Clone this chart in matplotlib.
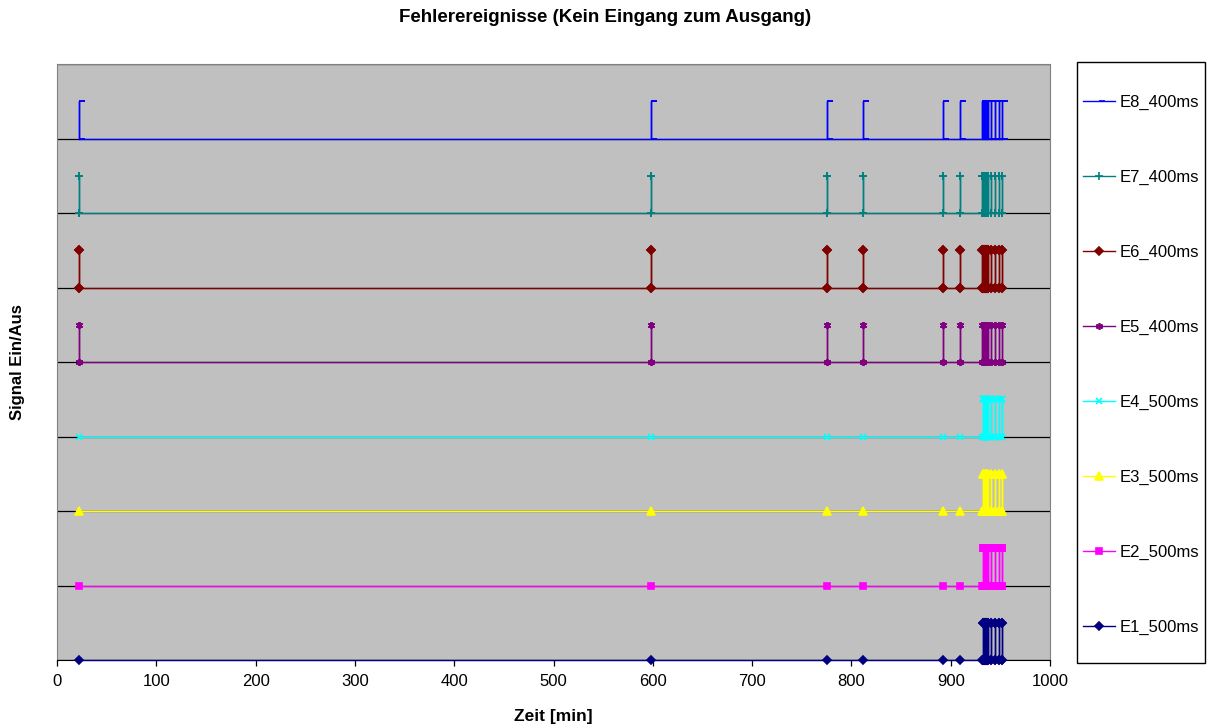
import numpy as np
import matplotlib.pyplot as plt
from matplotlib.path import Path
from matplotlib.patches import Rectangle

plt.rcParams['font.family'] = ['Liberation Sans', 'DejaVu Sans']

# ------------------------------------------------------------
# Data
# ------------------------------------------------------------
# times of the recorded events [min]
event_times = [22.5, 598.5, 775.0, 811.5, 892.0, 909.5,
               931.5, 932.5, 933.5, 934.5, 935.5, 936.5, 937.5,
               940.5, 944.5, 948.5, 952.0]

# 1 = signal switched on at that event, 0 = stayed off
flags_400ms = [1, 1, 1, 1, 1, 1,
               1, 1, 1, 1, 1, 1, 1,
               1, 1, 1, 1]
flags_500ms = [0, 0, 0, 0, 0, 0,
               0, 1, 1, 1, 1, 1, 1,
               1, 1, 1, 1]

series_names = ['E1_500ms', 'E2_500ms', 'E3_500ms', 'E4_500ms',
                'E5_400ms', 'E6_400ms', 'E7_400ms', 'E8_400ms']
series_flags = [flags_500ms] * 4 + [flags_400ms] * 4
pulse_ms = [500, 500, 500, 500, 400, 400, 400, 400]

# styles (Excel default series look)
colors = ['#000080', '#FF00FF', '#FFFF00', '#00FFFF',
          '#800080', '#800000', '#008080', '#0000FF']
dash = Path([(0, 0), (1, 0)], [Path.MOVETO, Path.LINETO])
markers = ['D', 's', '^', 'x', (6, 2, 0), 'D', '+', dash]
msizes = [4.5, 5, 5.5, 4.5, 5, 4.5, 6, 8]


def pulse_train(times, flags, width):
    """Turns event times into a rectangular on/off signal."""
    xs, ys = [], []
    for t, f in zip(times, flags):
        if f:
            xs += [t, t, t + width, t + width]
            ys += [0, 1, 1, 0]
        else:
            xs.append(t)
            ys.append(0)
    return np.array(xs), np.array(ys)


fig = plt.figure(figsize=(12.11, 7.27), dpi=100)
ax = fig.add_axes([57 / 1211, 1 - 660 / 727, (1050 - 57) / 1211, (660 - 64) / 727])
ax.set_facecolor('#C0C0C0')

handles = []
for k, name in enumerate(series_names):
    xs, ys = pulse_train(event_times, series_flags[k], pulse_ms[k] / 60000.0)
    h, = ax.plot(xs, ys + 2 * k, color=colors[k], lw=1.0,
                 marker=markers[k], markersize=msizes[k],
                 markeredgewidth=1.2, label=name, clip_on=False, zorder=3)
    handles.append(h)

ax.set_xlim(0, 1000)
ax.set_ylim(0, 16)
ax.set_xticks(np.arange(0, 1001, 100))
ax.set_yticks(np.arange(0, 17, 2))
ax.yaxis.grid(True, color='black', lw=0.9)
ax.set_axisbelow(True)
ax.tick_params(axis='y', length=0, labelleft=False)
ax.tick_params(axis='x', direction='out', length=4, width=0.9,
               labelsize=12, pad=6)
for s in ['left', 'top', 'right']:
    ax.spines[s].set_color('#808080')
ax.spines['bottom'].set_color('black')

fig.text(0.5, 1 - 18 / 727, 'Fehlerereignisse (Kein Eingang zum Ausgang)',
         ha='center', va='center', fontsize=13.5, fontweight='bold')
fig.text(553 / 1211, 1 - 716 / 727, 'Zeit [min]', ha='center', va='center',
         fontsize=12.5, fontweight='bold')
fig.text(18 / 1211, 1 - 362 / 727, 'Signal Ein/Aus', ha='center', va='center',
         rotation=90, fontsize=12, fontweight='bold')

# legend box on the right, E8 on top
fig.add_artist(Rectangle((1077 / 1211, 1 - 663 / 727), 128 / 1211, 601 / 727,
                         transform=fig.transFigure, facecolor='white',
                         edgecolor='black', lw=1.0, zorder=0))
leg = fig.legend(handles[::-1], series_names[::-1], loc='upper left',
                 bbox_to_anchor=(1083 / 1211, 1 - 95 / 727),
                 frameon=False, fontsize=12, labelspacing=3.59,
                 handlelength=1.9, handletextpad=0.3,
                 borderpad=0, borderaxespad=0)

plt.savefig('out.png', dpi=100)
